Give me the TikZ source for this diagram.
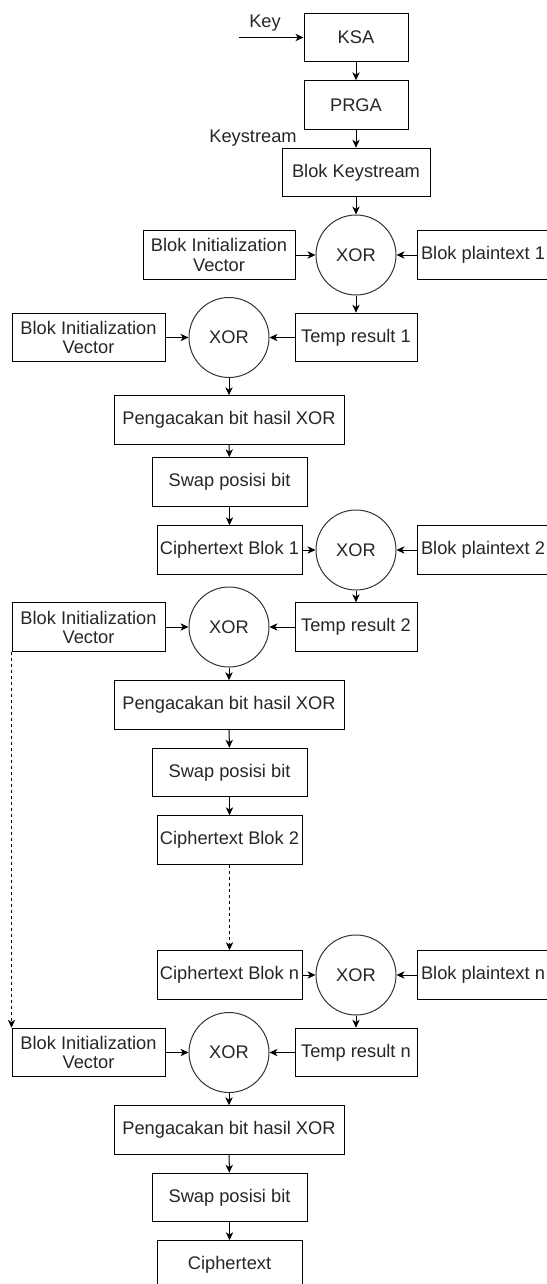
\documentclass[tikz,border=0pt]{standalone}
\usepackage{fontspec}
\setmainfont{Liberation Sans}
\usepackage{tikz}
\usetikzlibrary{arrows.meta}

\begin{document}
\begin{tikzpicture}[x=0.75pt, y=-0.75pt,
        every node/.style={font=\fontsize{13.7}{14.3}\selectfont, text=black!85},
        blok/.style={draw, rectangle, inner sep=0pt, minimum height=36.4pt, align=center, line width=0.75pt},
        xornode/.style={draw, circle, inner sep=0pt, minimum size=60pt, line width=0.75pt, draw=black!80},
        arr/.style={-{Stealth[length=6pt, width=5.5pt, inset=1.8pt]}, line width=0.75pt},
        putus/.style={arr, dash pattern=on 2.25pt off 2.25pt}]
        \useasboundingbox (0,0) rectangle (546,1284);

        % key schedule
        \coordinate (keyin) at (239,37.5);
        \node (keylbl) at (265,23) {Key};
        \node[blok, minimum width=78pt] (ksa) at (356,37.5) {KSA};
        \node[blok, minimum width=78pt] (prga) at (356,105) {PRGA};
        \node (kslbl) at (253,138) {Keystream};
        \node[blok, minimum width=111pt] (keystream) at (356,172.5) {Blok Keystream};

        % blok 1
        \node[xornode] (xor1) at (356,255) {XOR};
        \node[blok, minimum width=114pt] (iv1) at (219,255) {Blok Initialization\\Vector};
        \node[blok, minimum width=99pt] (pt1) at (483,255) {Blok plaintext 1};
        \node[blok, minimum width=91.5pt] (temp1) at (356,337.5) {Temp result 1};
        \node[xornode] (xor2) at (229,337.5) {XOR};
        \node[blok, minimum width=114.75pt] (iv2) at (88.5,337.5) {Blok Initialization\\Vector};
        \node[blok, minimum width=172.5pt] (acak1) at (229,420) {Pengacakan bit hasil XOR};
        \node[blok, minimum width=116.25pt] (swap1) at (229.5,482) {Swap posisi bit};
        \node[blok, minimum width=108.75pt] (cipher1) at (229.5,550) {Ciphertext Blok 1};

        % blok 2
        \node[xornode] (xor3) at (356,550) {XOR};
        \node[blok, minimum width=99pt] (pt2) at (483,550) {Blok plaintext 2};
        \node[blok, minimum width=91.5pt] (temp2) at (356,627) {Temp result 2};
        \node[xornode] (xor4) at (229,627) {XOR};
        \node[blok, minimum width=114.75pt] (iv3) at (88.5,627) {Blok Initialization\\Vector};
        \node[blok, minimum width=172.5pt] (acak2) at (229,705) {Pengacakan bit hasil XOR};
        \node[blok, minimum width=116.25pt] (swap2) at (229.5,772.5) {Swap posisi bit};
        \node[blok, minimum width=108.75pt] (cipher2) at (229.5,840) {Ciphertext Blok 2};

        % blok n
        \node[blok, minimum width=108.75pt] (ciphern) at (229.5,975) {Ciphertext Blok n};
        \node[xornode] (xor5) at (356,975) {XOR};
        \node[blok, minimum width=99pt] (ptn) at (483,975) {Blok plaintext n};
        \node[blok, minimum width=91.5pt] (tempn) at (356,1052.5) {Temp result n};
        \node[xornode] (xor6) at (229,1052.5) {XOR};
        \node[blok, minimum width=114.75pt] (ivn) at (88.5,1052.5) {Blok Initialization\\Vector};
        \node[blok, minimum width=172.5pt] (acak3) at (229,1130) {Pengacakan bit hasil XOR};
        \node[blok, minimum width=116.25pt] (swap3) at (229.5,1197.5) {Swap posisi bit};
        \node[blok, minimum width=108.75pt] (ciphertext) at (229.5,1265) {Ciphertext};

        \draw[arr] (keyin) -- (ksa);
        \draw[arr] (ksa) -- (prga);
        \draw[arr] (prga) -- (keystream);
        \draw[arr] (keystream) -- (xor1);
        \draw[arr] (iv1) -- (xor1);
        \draw[arr] (pt1) -- (xor1);
        \draw[arr] (xor1) -- (temp1);
        \draw[arr] (temp1) -- (xor2);
        \draw[arr] (iv2) -- (xor2);
        \draw[arr] (xor2) -- (acak1);
        \draw[arr] (acak1) -- (swap1);
        \draw[arr] (swap1) -- (cipher1);
        \draw[arr] (cipher1) -- (xor3);
        \draw[arr] (pt2) -- (xor3);
        \draw[arr] (xor3) -- (temp2);
        \draw[arr] (temp2) -- (xor4);
        \draw[arr] (iv3) -- (xor4);
        \draw[arr] (xor4) -- (acak2);
        \draw[arr] (acak2) -- (swap2);
        \draw[arr] (swap2) -- (cipher2);
        \draw[putus] (cipher2) -- (ciphern);
        \draw[putus] (iv3.south west) -- (ivn.north west);
        \draw[arr] (ciphern) -- (xor5);
        \draw[arr] (ptn) -- (xor5);
        \draw[arr] (xor5) -- (tempn);
        \draw[arr] (tempn) -- (xor6);
        \draw[arr] (ivn) -- (xor6);
        \draw[arr] (xor6) -- (acak3);
        \draw[arr] (acak3) -- (swap3);
        \draw[arr] (swap3) -- (ciphertext);
    \end{tikzpicture}
\end{document}
